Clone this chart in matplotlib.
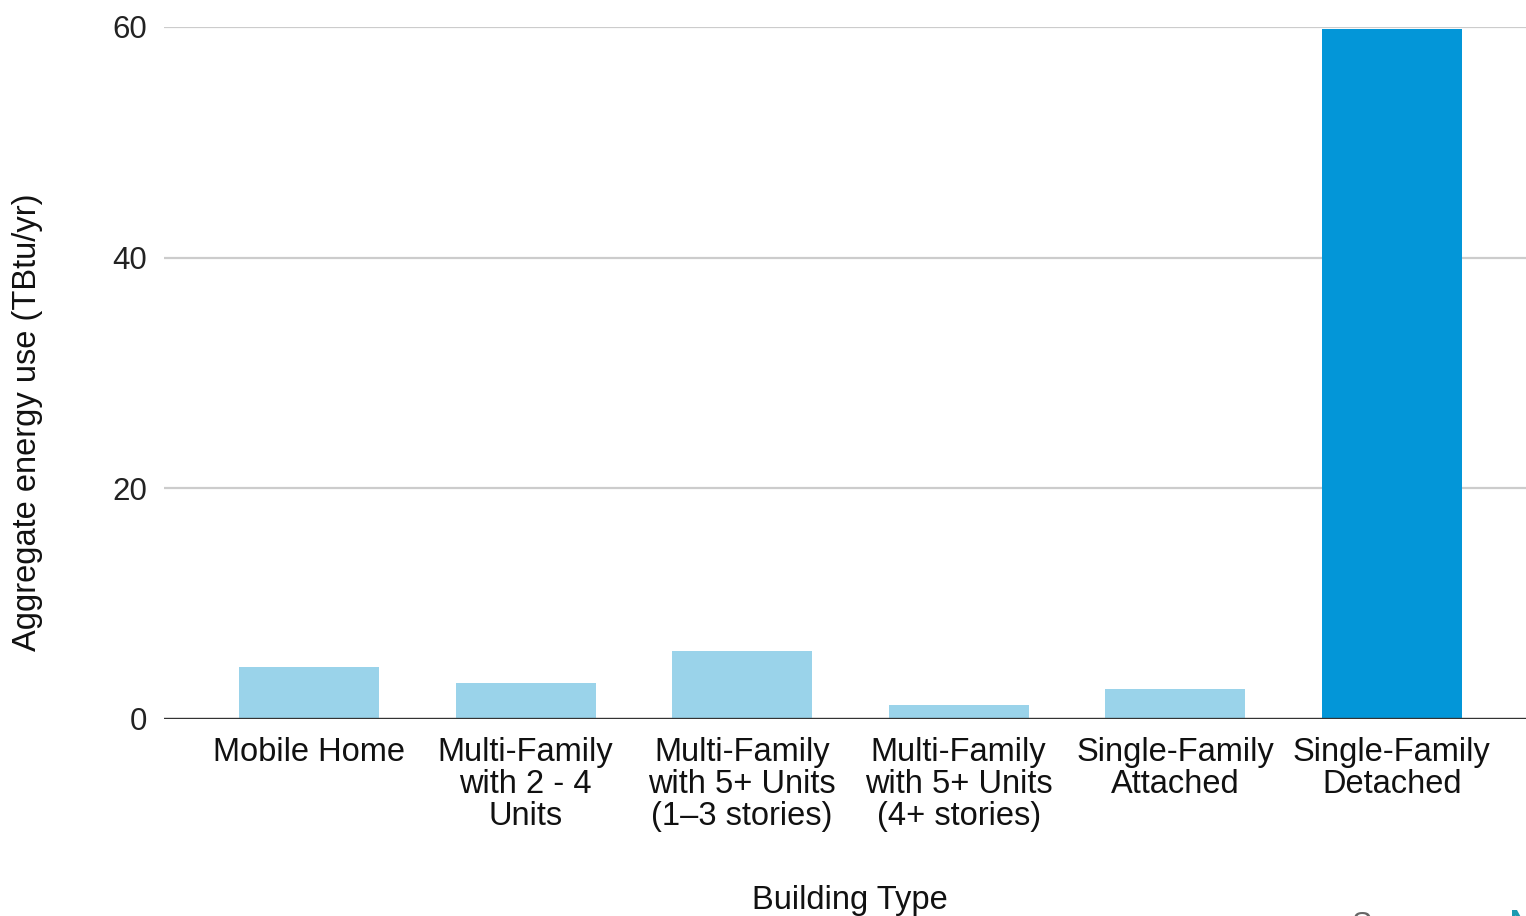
import matplotlib
matplotlib.use("Agg")
import matplotlib.pyplot as plt
import numpy as np

categories = [
    "Mobile Home",
    "Multi-Family\nwith 2 - 4\nUnits",
    "Multi-Family\nwith 5+ Units\n(1\u20133 stories)",
    "Multi-Family\nwith 5+ Units\n(4+ stories)",
    "Single-Family\nAttached",
    "Single-Family\nDetached",
]
values = [4.5, 3.1, 5.9, 1.2, 2.6, 59.8]
highlight = [False, False, False, False, False, True]
yticks = [0, 20, 40, 60]

light = "#9AD3EA"
dark = "#0396D8"

plt.rcParams['font.family'] = ['Liberation Sans', 'DejaVu Sans']

fig = plt.figure(figsize=(15.26, 9.16), dpi=100)
ax = fig.add_axes([164/1526, 1-719/916, 1-164/1526, (719-27)/916])

x = np.arange(len(categories))
colors = [dark if h else light for h in highlight]
ax.bar(x, values, width=0.646, color=colors, zorder=3)

ax.set_ylim(0, 60)
ax.set_xlim(-0.67, 5.62)
ax.set_yticks(yticks)
ax.set_yticklabels([str(t) for t in yticks], fontsize=22.5, color="#222222")
ax.set_xticks(x)
ax.set_xticklabels(categories, fontsize=23.5, color="#111111", linespacing=1.04)
ax.tick_params(axis='both', length=0)
ax.tick_params(axis='y', pad=12)
ax.tick_params(axis='x', pad=13)

ax.grid(axis='y', color="#cccccc", linewidth=1.6, zorder=0)
for s in ax.spines.values():
    s.set_visible(False)
ax.axhline(0, color="#333333", linewidth=2.4, zorder=4)

fig.text(28/1526, 1-422/916, "Aggregate energy use (TBtu/yr)", rotation=90,
         fontsize=23.5, color="#111111", ha='center', va='center')
fig.text(850/1526, 1-900/916, "Building Type", fontsize=23.5, color="#111111",
         ha='center', va='center')

fig.text(1400/1526, 1-911/916, "Source", fontsize=22, color="#666666", ha='center', va='top')
fig.text(1510/1526, 1-909/916, "N", fontsize=22, color="#1a9ab0", ha='left', va='top',
         fontweight='bold')

fig.savefig("out.png", dpi=100)
